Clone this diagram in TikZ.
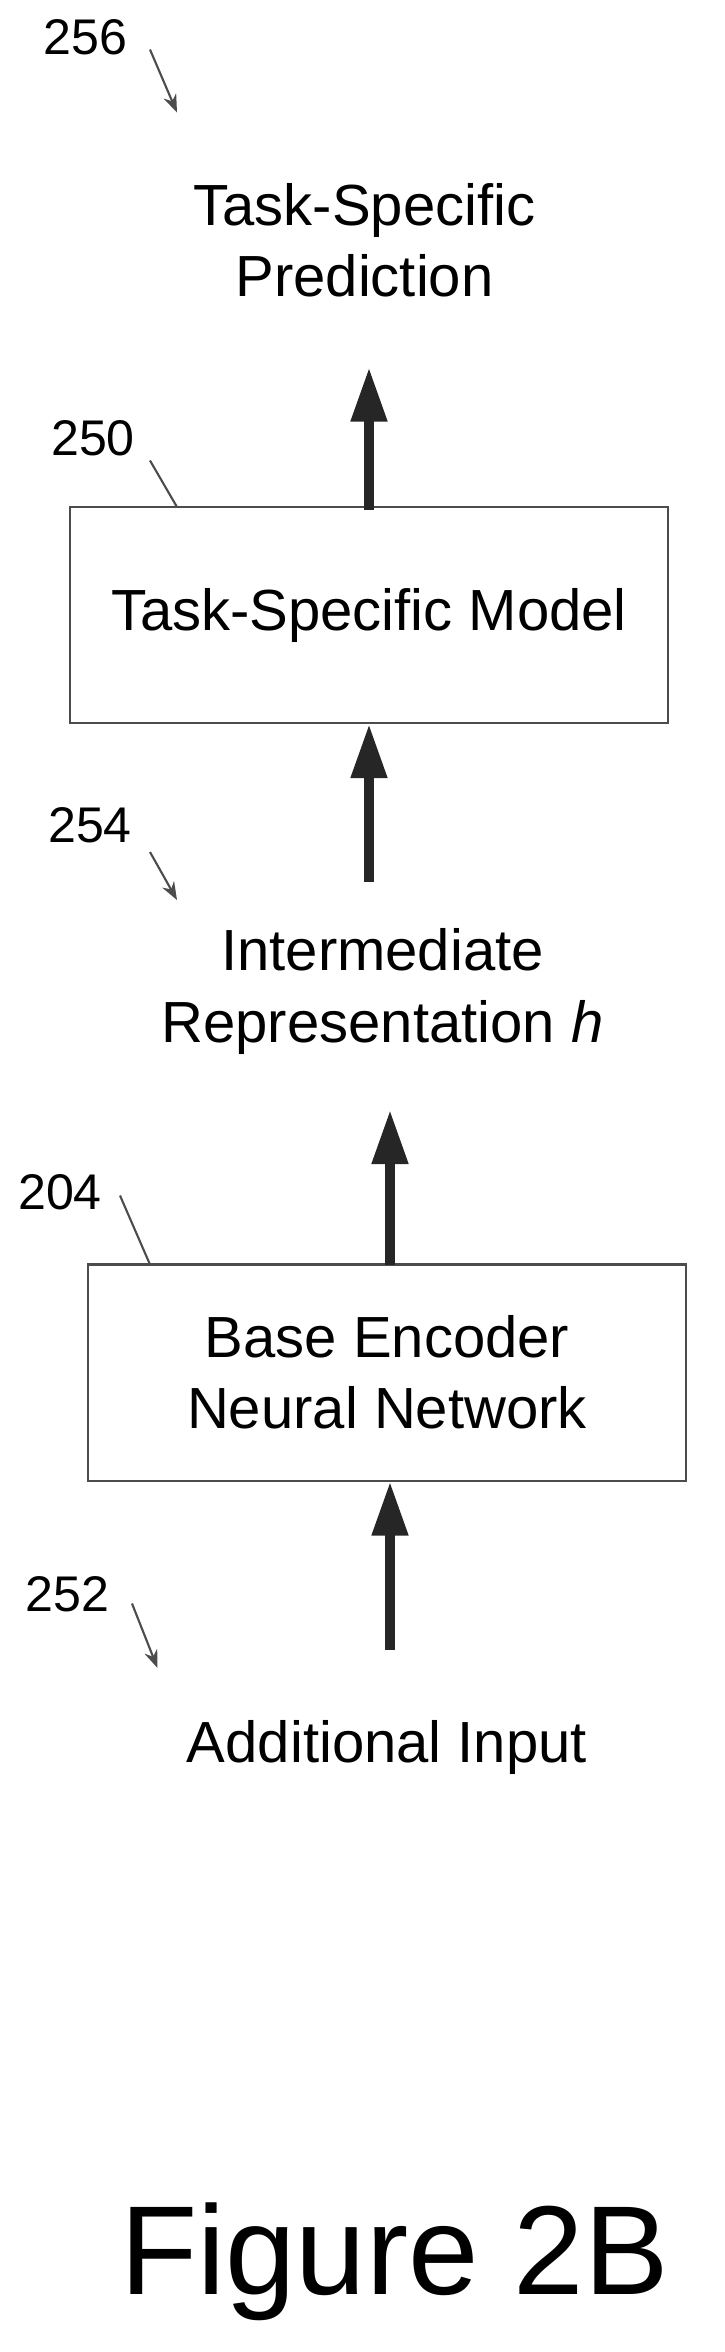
\documentclass[tikz,border=0pt]{standalone}
\usepackage{fontspec}
\setmainfont{Liberation Sans}
\usetikzlibrary{positioning, arrows.meta}

\begin{document}
\begin{tikzpicture}[
        x=0.01cm, y=-0.01cm,
        every node/.style={font=\fontsize{11}{13.5}\selectfont, align=center},
        block/.style={rectangle, draw=black!70, thin, minimum width=3.98cm, minimum height=1.44cm},
        flow/.style={-{Triangle[length=0.36cm, width=0.23cm]}, line width=1.8pt, black!85},
        tag/.style={font=\fontsize{9.5}{11}\selectfont},
        leader/.style={black!70, thin},
        pointer/.style={-{Stealth[length=0.12cm]}, black!70, thin}
    ]
        \useasboundingbox (0,0) rectangle (483,1568);
        % Top output
        \node (pred) at (243,160) {Task-Specific\\Prediction};
        \node[tag] (t256) at (57,25) {256};
        \coordinate (p256) at (118,75);
        \draw[pointer] (100,33) -- (p256);
        % Task-specific model
        \node[block] (model) at (246,410) {Task-Specific Model};
        \node[tag] (t250) at (62,292) {250};
        \coordinate (m250) at (118,338);
        \draw[leader] (100,307) -- (m250);
        \coordinate (mtop) at (246,340);
        \draw[flow] (mtop) -- (246,245);
        % Intermediate representation
        \node (inter) at (255,661) {Intermediate\\Representation \textit{h}};
        \node[tag] (t254) at (60,550) {254};
        \coordinate (p254) at (118,600);
        \draw[pointer] (100,568) -- (p254);
        \coordinate (iarr) at (246,588);
        \draw[flow] (iarr) -- (model.south -| iarr);
        % Base encoder
        \node[block] (enc) at (258,915) {Base Encoder\\Neural Network};
        \node[tag] (t204) at (40,795) {204};
        \coordinate (e204) at (100,843);
        \draw[leader] (80,797) -- (e204);
        \coordinate (etop) at (260,843);
        \draw[flow] (etop) -- (260,740);
        % Additional input
        \node (input) at (258,1165) {Additional Input};
        \node[tag] (t252) at (45,1063) {252};
        \coordinate (p252) at (105,1112);
        \draw[pointer] (88,1069) -- (p252);
        \coordinate (barr) at (260,1100);
        \draw[flow] (barr) -- (enc.south -| barr);
        % Caption
        \node[font=\fontsize{24}{28}\selectfont] (fig) at (263,1508) {Figure 2B};
    \end{tikzpicture}
\end{document}
